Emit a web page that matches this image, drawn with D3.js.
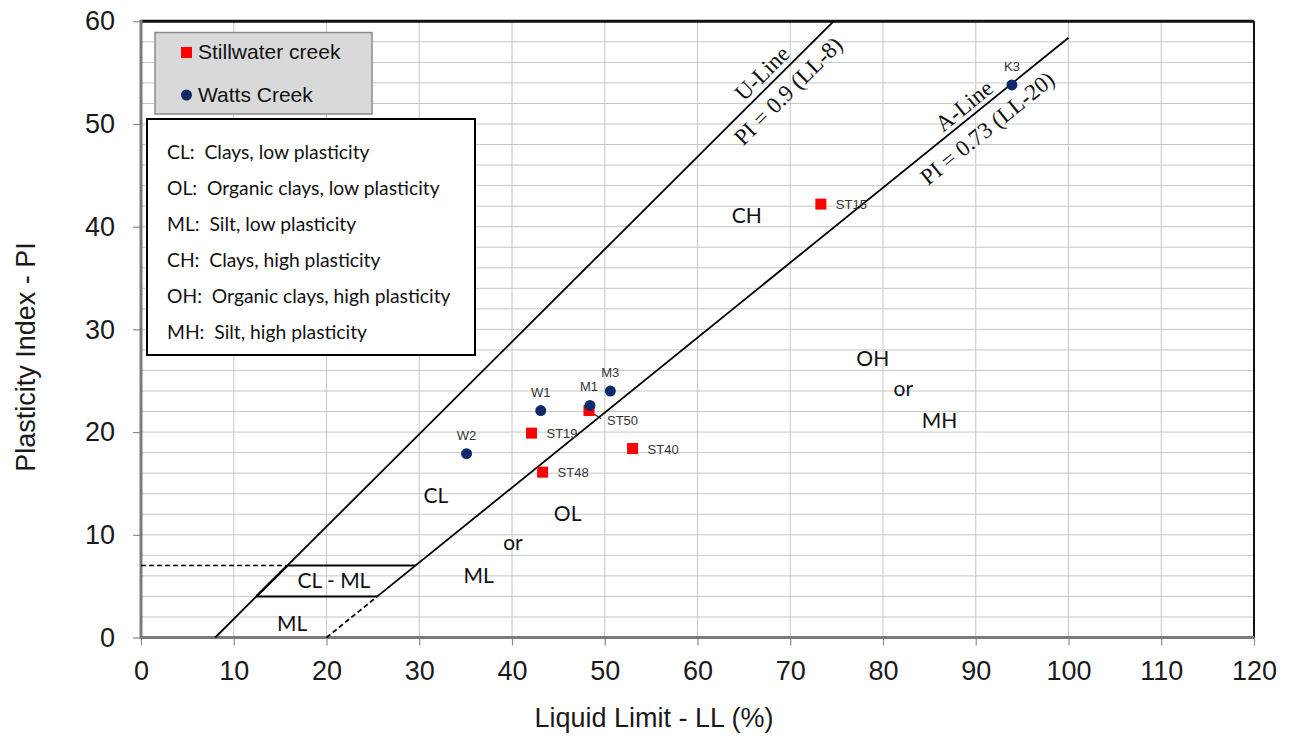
<!DOCTYPE html>
<html>
<head>
<meta charset="utf-8">
<script src="https://cdn.jsdelivr.net/npm/d3@7"></script>
<style>
  html, body { margin: 0; padding: 0; background: #fff; }
  svg { display: block; }
  .pre { white-space: pre; }
</style>
</head>
<body>
<svg id="chart" width="1290" height="738"></svg>
<script>
// Plasticity chart (Casagrande) for creek sediment samples

// Stillwater creek samples
const stillwaterNames = ["ST15", "ST50", "ST19", "ST40", "ST48"];
const stillwaterLL = [73.3, 48.3, 42.1, 53.0, 43.3];
const stillwaterPI = [42.2, 22.1, 19.9, 18.4, 16.1];

// Watts Creek samples
const wattsNames = ["K3", "M3", "M1", "W1", "W2"];
const wattsLL = [93.9, 50.6, 48.4, 43.1, 35.1];
const wattsPI = [53.8, 24.0, 22.6, 22.1, 17.9];

// axes
const xTicks = [0, 10, 20, 30, 40, 50, 60, 70, 80, 90, 100, 110, 120];
const yTicks = [0, 10, 20, 30, 40, 50, 60];
const xTitle = "Liquid Limit - LL (%)";
const yTitle = "Plasticity Index - PI";

// legend and soil group notes
const seriesNames = ["Stillwater creek", "Watts Creek"];
const soilNotes = [
  "CL:  Clays, low plasticity",
  "OL:  Organic clays, low plasticity",
  "ML:  Silt, low plasticity",
  "CH:  Clays, high plasticity",
  "OH:  Organic clays, high plasticity",
  "MH:  Silt, high plasticity"
];

// classification lines: PI = slope * (LL - offset)
const uLine = { slope: 0.9, offset: 8, name: "U-Line", eq: "PI = 0.9 (LL-8)" };
const aLine = { slope: 0.73, offset: 20, name: "A-Line", eq: "PI = 0.73 (LL-20)" };
const aLineEnd = 100;       // A-line drawn up to LL = 100
const clmlTop = 7;          // CL-ML band upper PI
const clmlBottom = 4;       // CL-ML band lower PI

// zone labels (LL at centre, PI at baseline)
const zoneText = ["ML", "CL - ML", "CL", "OL", "or", "ML", "CH", "OH", "or", "MH"];
const zoneLL   = [16.3, 20.8, 31.8, 46.0, 40.1, 36.4, 65.3, 78.9, 82.2, 86.1];
const zonePI   = [0.6, 4.8, 13.1, 11.3, 8.5, 5.3, 40.4, 26.4, 23.5, 20.4];

// ---------------------------------------------------------------
const svg = d3.select("#chart");
const plotL = 141, plotR = 1254, plotT = 21.3, plotB = 637.5;

const x = d3.scaleLinear().domain([0, 120]).range([plotL, plotR]);
const y = d3.scaleLinear().domain([0, 60]).range([plotB, plotT]);

const ARIAL = "'Liberation Sans', Arial, sans-serif";
const SERIF = "'Liberation Serif', 'Times New Roman', serif";
const CAL = "Lato, 'Open Sans', sans-serif";

// grid
const grid = svg.append("g");
grid.selectAll("line.h").data(d3.range(2, 60, 2)).join("line")
  .attr("class", "h")
  .attr("x1", plotL).attr("x2", plotR)
  .attr("y1", d => y(d)).attr("y2", d => y(d))
  .attr("stroke", "#c6c6c6").attr("stroke-width", 1);
grid.selectAll("line.v").data(d3.range(10, 120, 10)).join("line")
  .attr("class", "v")
  .attr("y1", plotT).attr("y2", plotB)
  .attr("x1", d => x(d)).attr("x2", d => x(d))
  .attr("stroke", "#c6c6c6").attr("stroke-width", 1);

// axes
const yAxis = svg.append("g").attr("transform", `translate(${plotL},0)`)
  .call(d3.axisLeft(y).tickValues(yTicks).tickSize(8).tickPadding(18));
const xAxis = svg.append("g").attr("transform", `translate(0,${plotB})`)
  .call(d3.axisBottom(x).tickValues(xTicks).tickSize(8).tickPadding(15));
[yAxis, xAxis].forEach(g => {
  g.select(".domain").remove();
  g.selectAll(".tick line").attr("stroke", "#8c8c8c").attr("stroke-width", 1.2);
  g.selectAll(".tick text").attr("fill", "#1a1a1a")
    .style("font-family", ARIAL).style("font-size", "27px");
});

// plot frame
svg.append("line").attr("x1", plotL).attr("x2", plotR).attr("y1", plotT).attr("y2", plotT)
  .attr("stroke", "#111").attr("stroke-width", 3);
svg.append("line").attr("x1", plotR).attr("x2", plotR).attr("y1", plotT).attr("y2", plotB)
  .attr("stroke", "#111").attr("stroke-width", 2);
svg.append("line").attr("x1", plotL).attr("x2", plotR).attr("y1", plotB).attr("y2", plotB)
  .attr("stroke", "#7a7a7a").attr("stroke-width", 3);
svg.append("line").attr("x1", plotL).attr("x2", plotL).attr("y1", plotT - 1.5).attr("y2", plotB + 1.5)
  .attr("stroke", "#7a7a7a").attr("stroke-width", 3);

// axis titles
svg.append("text").attr("x", 654).attr("y", 727)
  .attr("text-anchor", "middle").attr("fill", "#1a1a1a")
  .style("font-family", ARIAL).style("font-size", "27px").text(xTitle);
svg.append("text").attr("transform", "translate(35,357) rotate(-90)")
  .attr("text-anchor", "middle").attr("fill", "#1a1a1a")
  .style("font-family", ARIAL).style("font-size", "27px").text(yTitle);

// classification lines
const piOf = (ln, ll) => ln.slope * (ll - ln.offset);
const llOf = (ln, pi) => pi / ln.slope + ln.offset;
const seg = (x1, y1, x2, y2, dashed, w) => svg.append("line")
  .attr("x1", x(x1)).attr("y1", y(y1)).attr("x2", x(x2)).attr("y2", y(y2))
  .attr("stroke", "#000").attr("stroke-width", w || 1.8)
  .attr("stroke-dasharray", dashed ? "5,3" : null);

// U-line from PI = 0 to the top of the chart
seg(uLine.offset, 0, llOf(uLine, 60), 60);
// A-line: dashed below PI = 4, solid above
seg(aLine.offset, 0, llOf(aLine, clmlBottom), clmlBottom, true);
seg(llOf(aLine, clmlBottom), clmlBottom, aLineEnd, piOf(aLine, aLineEnd));
// PI = 7 guide and CL-ML band
seg(0, clmlTop, llOf(uLine, clmlTop), clmlTop, true, 1.5);
seg(llOf(uLine, clmlTop), clmlTop, llOf(aLine, clmlTop), clmlTop, false, 2);
seg(llOf(uLine, clmlBottom), clmlBottom, llOf(aLine, clmlBottom), clmlBottom, false, 2);
seg(llOf(uLine, clmlBottom), clmlBottom, llOf(uLine, clmlTop), clmlTop, false, 2.4);

// line captions, rotated along each line
function lineCaption(ln, llAt, above, below, shift) {
  const x0 = x(llAt), y0 = y(piOf(ln, llAt));
  const x1 = x(llAt + 10), y1 = y(piOf(ln, llAt + 10));
  const ang = Math.atan2(y1 - y0, x1 - x0) * 180 / Math.PI;
  const g = svg.append("g").attr("transform", `translate(${x0},${y0}) rotate(${ang})`);
  g.append("text").attr("x", 0).attr("y", -above).attr("text-anchor", "middle")
    .style("font-family", SERIF).style("font-size", "23px").attr("fill", "#111").text(ln.name);
  g.append("text").attr("x", shift).attr("y", below).attr("text-anchor", "middle")
    .style("font-family", SERIF).style("font-size", "23px").attr("fill", "#111").text(ln.eq);
}
lineCaption(uLine, 68.0, 6, 25, 6);
lineCaption(aLine, 89.6, 5, 27, 4);

// zone labels
svg.append("g").selectAll("text").data(zoneText).join("text")
  .attr("x", (d, i) => x(zoneLL[i])).attr("y", (d, i) => y(zonePI[i]))
  .attr("text-anchor", "middle").attr("fill", "#111")
  .style("font-family", CAL).style("font-size", "21px")
  .text(d => d);

// soil group notes box
const nb = svg.append("g");
nb.append("rect").attr("x", 147).attr("y", 119).attr("width", 328).attr("height", 236)
  .attr("fill", "#fff").attr("stroke", "#000").attr("stroke-width", 2);
nb.selectAll("text").data(soilNotes).join("text")
  .attr("class", "pre")
  .attr("x", 167).attr("y", (d, i) => 159 + i * 36)
  .attr("fill", "#111").style("font-family", CAL).style("font-size", "19.3px")
  .text(d => d);

// legend
const lg = svg.append("g");
lg.append("rect").attr("x", 155).attr("y", 32.5).attr("width", 217).attr("height", 81.5)
  .attr("fill", "#d9d9d9").attr("stroke", "#8a8a8a").attr("stroke-width", 1.5);
lg.append("rect").attr("x", 181).attr("y", 47).attr("width", 11).attr("height", 11).attr("fill", "#ff0000");
lg.append("circle").attr("cx", 186.5).attr("cy", 95).attr("r", 5.5).attr("fill", "#0d2a6b");
lg.selectAll("text").data(seriesNames).join("text")
  .attr("x", 198).attr("y", (d, i) => 59 + i * 42.5)
  .attr("fill", "#111").style("font-family", ARIAL).style("font-size", "21px")
  .text(d => d);

// sample points
const stData = stillwaterNames.map((n, i) => ({ n, ll: stillwaterLL[i], pi: stillwaterPI[i] }));
const wtData = wattsNames.map((n, i) => ({ n, ll: wattsLL[i], pi: wattsPI[i] }));

// leader from ST50 to its label
const st50 = stData.find(d => d.n === "ST50");
svg.append("line").attr("x1", x(st50.ll) + 4).attr("y1", y(st50.pi) + 3)
  .attr("x2", x(st50.ll) + 12).attr("y2", y(st50.pi) + 8)
  .attr("stroke", "#222").attr("stroke-width", 1.2);

svg.append("g").selectAll("rect").data(stData).join("rect")
  .attr("x", d => x(d.ll) - 5.5).attr("y", d => y(d.pi) - 5.5)
  .attr("width", 11).attr("height", 11).attr("fill", "#ff0000");
svg.append("g").selectAll("circle").data(wtData).join("circle")
  .attr("cx", d => x(d.ll)).attr("cy", d => y(d.pi)).attr("r", 5.5).attr("fill", "#0d2a6b");

// point labels: Stillwater to the right, Watts above
const labelShift = { ST50: [18, 14] };
svg.append("g").selectAll("text").data(stData).join("text")
  .attr("x", d => x(d.ll) + (labelShift[d.n] ? labelShift[d.n][0] : 15))
  .attr("y", d => y(d.pi) + (labelShift[d.n] ? labelShift[d.n][1] : 5))
  .attr("fill", "#333").style("font-family", ARIAL).style("font-size", "13px")
  .text(d => d.n);
svg.append("g").selectAll("text").data(wtData).join("text")
  .attr("x", d => x(d.ll) + (d.n === "M1" ? -1 : 0))
  .attr("y", d => y(d.pi) - 14)
  .attr("text-anchor", "middle")
  .attr("fill", "#333").style("font-family", ARIAL).style("font-size", "13px")
  .text(d => d.n);
</script>
</body>
</html>
